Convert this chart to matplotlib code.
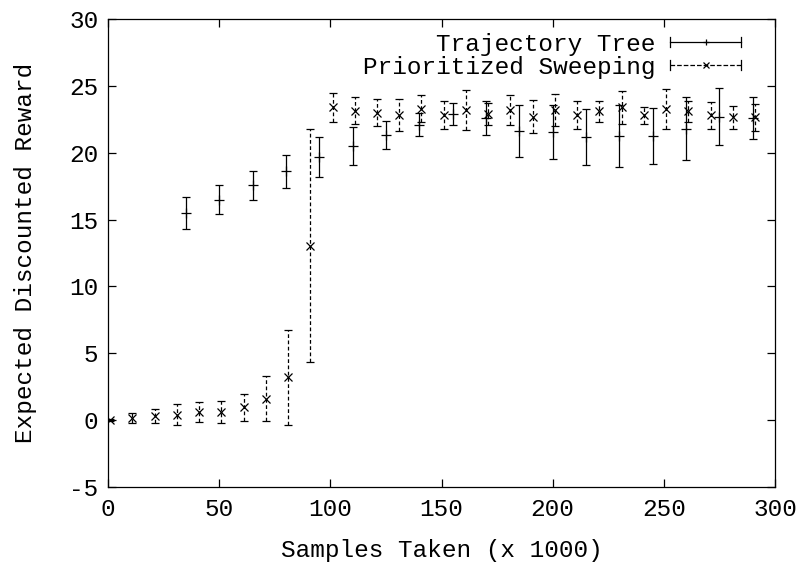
"""Trajectory Tree vs Prioritized Sweeping, gnuplot-style errorbar chart."""

import matplotlib
matplotlib.use("Agg")
import matplotlib.pyplot as plt
from matplotlib.legend_handler import HandlerBase
from matplotlib.lines import Line2D

# Trajectory Tree (+ markers, solid error bars)
tree_x = [35, 50, 65, 80, 95, 110, 125, 140, 155, 170, 185, 200, 215, 230, 245, 260, 275, 290]
tree_y = [15.5, 16.5, 17.55, 18.6, 19.65, 20.5, 21.3, 22.1, 22.9, 22.6, 21.6, 21.55,
          21.2, 21.25, 21.25, 21.8, 22.7, 22.6]
tree_err = [1.2, 1.05, 1.1, 1.25, 1.5, 1.4, 1.05, 0.85, 0.85, 1.25, 1.95, 2.0,
            2.1, 2.3, 2.1, 2.35, 2.15, 1.6]

# Prioritized Sweeping (x markers, dashed error bars)
ps_x = [1, 11, 21, 31, 41, 51, 61, 71, 81, 91, 101, 111, 121, 131, 141, 151, 161, 171,
        181, 191, 201, 211, 221, 231, 241, 251, 261, 271, 281, 291]
ps_y = [0.0, 0.15, 0.3, 0.42, 0.6, 0.6, 0.95, 1.6, 3.2, 13.05, 23.4, 23.15, 23.0, 22.85,
        23.3, 22.85, 23.2, 22.9, 23.2, 22.7, 23.2, 22.8, 23.1, 23.4, 22.8, 23.25, 23.1,
        22.8, 22.65, 22.65]
ps_err = [0.05, 0.4, 0.55, 0.75, 0.75, 0.8, 1.0, 1.7, 3.55, 8.7, 1.1, 1.0, 1.0, 1.2,
          1.0, 1.05, 1.5, 0.85, 1.1, 1.25, 1.2, 1.05, 0.8, 1.25, 0.65, 1.5, 0.8, 1.0,
          0.85, 1.0]

x_ticks = [0, 50, 100, 150, 200, 250, 300]
y_ticks = [-5, 0, 5, 10, 15, 20, 25, 30]

plt.rcParams["font.family"] = ["Liberation Mono", "DejaVu Sans Mono"]
plt.rcParams["axes.unicode_minus"] = False

LW = 0.9
FS = 17.6


class GnuplotKey(HandlerBase):
    """Legend sample: horizontal line with end ticks and a marker in the middle."""

    def create_artists(self, legend, orig_handle, xdescent, ydescent, width, height,
                       fontsize, trans):
        y = height / 2 - ydescent
        x0, x1 = -xdescent, width - xdescent
        h = height * 0.3
        ls = orig_handle.get_linestyle()
        line = Line2D([x0, x1], [y, y], color="black", lw=LW, ls=ls)
        cap0 = Line2D([x0, x0], [y - h, y + h], color="black", lw=LW)
        cap1 = Line2D([x1, x1], [y - h, y + h], color="black", lw=LW)
        mark = Line2D([(x0 + x1) / 2], [y], color="black", ls="none",
                      marker=orig_handle.get_marker(), markersize=5, mew=LW)
        artists = [line, cap0, cap1, mark]
        for a in artists:
            a.set_transform(trans)
        return artists


fig = plt.figure(figsize=(7.96, 5.66), dpi=100)
ax = fig.add_axes([108 / 796, 1 - 487 / 566, (775 - 108) / 796, (487 - 19) / 566])

_, _, tree_bars = ax.errorbar(tree_x, tree_y, yerr=tree_err, fmt="+", color="black",
                              ms=7, mew=LW, elinewidth=LW, capsize=2.6, capthick=LW)
_, _, ps_bars = ax.errorbar(ps_x, ps_y, yerr=ps_err, fmt="x", color="black",
                            ms=6, mew=LW, elinewidth=LW, capsize=2.6, capthick=LW)
for b in ps_bars:
    b.set_linestyle((0, (3, 2)))

ax.set_xlim(0, 300)
ax.set_ylim(-5, 30)
ax.set_xticks(x_ticks)
ax.set_yticks(y_ticks)
ax.tick_params(direction="in", length=6, width=LW, top=True, right=True,
               labelsize=FS, pad=8)
ax.tick_params(axis="y", pad=7)
for s in ax.spines.values():
    s.set_linewidth(LW)

ax.set_xlabel("Samples Taken (x 1000)", fontsize=FS, labelpad=13)
ax.set_ylabel("Expected Discounted Reward", fontsize=FS, labelpad=23)

h_tree = Line2D([], [], ls="-", marker="+")
h_ps = Line2D([], [], ls=(0, (3, 2)), marker="x")
ax.legend([h_tree, h_ps], ["Trajectory Tree", "Prioritized Sweeping"],
          handler_map={Line2D: GnuplotKey()}, loc="upper right",
          bbox_to_anchor=(0.971, 1.002), frameon=False, markerfirst=False,
          fontsize=FS, handlelength=2.9, handletextpad=0.6, labelspacing=0.0,
          borderaxespad=0.2)

fig.savefig("out.png", dpi=100)
